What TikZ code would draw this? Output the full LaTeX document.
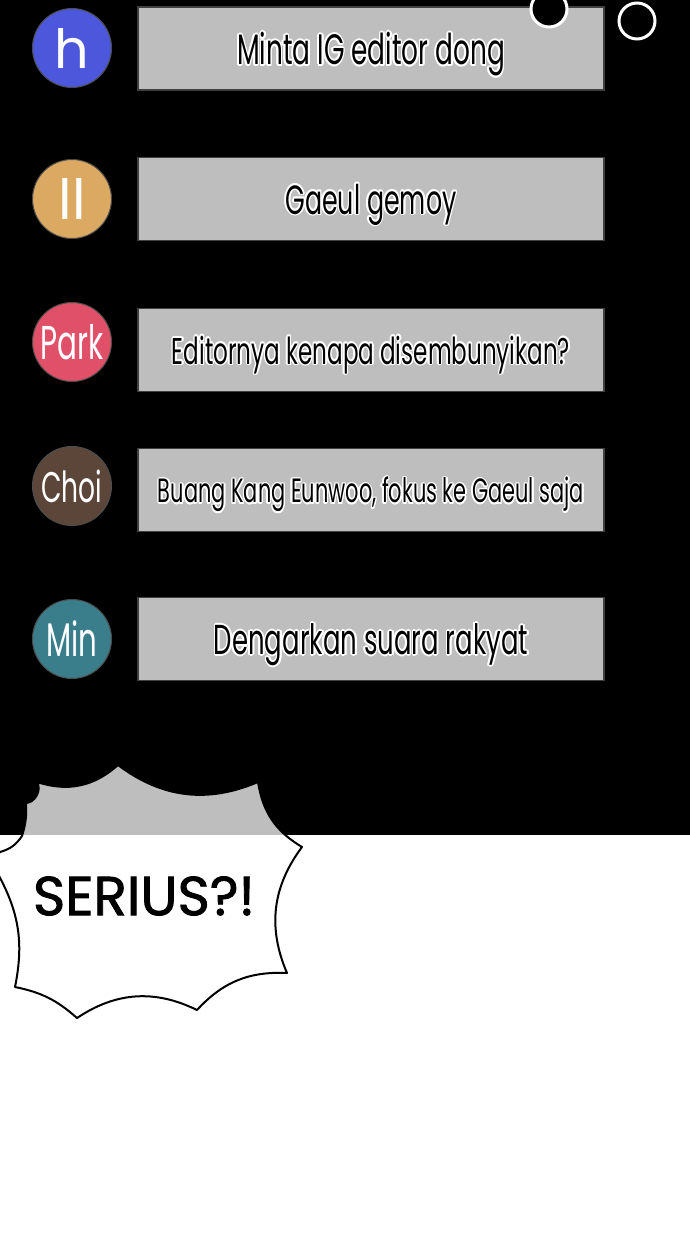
\documentclass[tikz,border=0pt]{standalone}
\usepackage{fontspec}
\usepackage{graphicx}
\usepackage{contour}
\usepackage{tikz}
\newfontfamily\chatfont[FakeStretch=0.62]{Poppins}
\newfontfamily\avatarfont{Poppins}
\newfontfamily\shoutfont[FakeBold=1.5]{Poppins}
\contourlength{1.2pt}
\contournumber{12}
\definecolor{ColH}{RGB}{76,87,220}
\definecolor{ColL}{RGB}{220,169,99}
\definecolor{ColPark}{RGB}{224,80,104}
\definecolor{ColChoi}{RGB}{92,70,58}
\definecolor{ColMin}{RGB}{58,126,140}
\definecolor{BoxGray}{RGB}{190,190,190}
\tikzstyle{Avatar}=[circle,draw=black!70,line width=1pt,minimum size=79pt,inner sep=0pt,
text=white]
\tikzstyle{ChatBox}=[rectangle,draw=black!75,line width=1.5pt,fill=BoxGray,
minimum width=466pt,minimum height=83pt,inner sep=0pt]
\tikzstyle{Dot}=[circle,draw=white,line width=3pt,fill=black,minimum size=36pt,inner sep=0pt]
\tikzstyle{Bubble}=[draw=black,line width=2pt,fill=white,fill opacity=.745,line join=round]
\newcommand{\ChatText}[2]{\raisebox{0pt}[\height][0pt]{\resizebox{#1}{!}{\contour{white}{\chatfont\fontsize{30}{36}\selectfont #2}}}}
\newcommand{\NameText}[2]{\resizebox{#1}{!}{\chatfont\fontsize{30}{36}\selectfont #2}}

\begin{document}
\begin{tikzpicture}[x=1pt,y=-1pt]
        \useasboundingbox(0,0)rectangle(690,1240);
        \fill[white](0,0)rectangle(690,1240);
        \fill[black](0,0)rectangle(690,835);
        % chat rows
        \node[ChatBox](m1)at(371,48.5){\ChatText{268pt}{Minta IG editor dong}};
        \node[ChatBox](m2)at(371,199){\ChatText{171pt}{Gaeul gemoy}};
        \node[ChatBox](m3)at(371,350){\ChatText{398pt}{Editornya kenapa disembunyikan?}};
        \node[ChatBox](m4)at(371,490){\ChatText{426pt}{Buang Kang Eunwoo, fokus ke Gaeul saja}};
        \node[ChatBox](m5)at(371,639){\ChatText{314pt}{Dengarkan suara rakyat}};
        \node[Avatar,fill=ColH](h)at(72,48){\resizebox{!}{40pt}{\avatarfont h}};
        \node[Avatar,fill=ColL](ll)at(72,199){\resizebox{!}{41pt}{\avatarfont ll}};
        \node[Avatar,fill=ColPark](park)at(72,342){\NameText{63pt}{Park}};
        \node[Avatar,fill=ColChoi](choi)at(72,486){\NameText{61pt}{Choi}};
        \node[Avatar,fill=ColMin](min)at(72,639){\NameText{51pt}{Min}};
        \node[Dot](d1)at(549,9){};
        \node[Dot](d2)at(637,21){};
        % shout bubble
        \draw[Bubble](-10,864)--(0,852)to[bend right=20](22,836)to[bend right=10](26,803)
            to[bend right=60](37,782)to[bend right=30](118,765)to[bend right=30](258,782)
            to[bend right=25](302,847)to[bend right=30](287,973)to[bend right=25](197,1010)
            to[bend right=30](77,1018)to[bend right=15](15,987)to[bend right=20](-2,874)--cycle;
        \node(shout)at(144,896){\resizebox{222pt}{!}{\shoutfont SERIUS?!}};
    \end{tikzpicture}
\end{document}
